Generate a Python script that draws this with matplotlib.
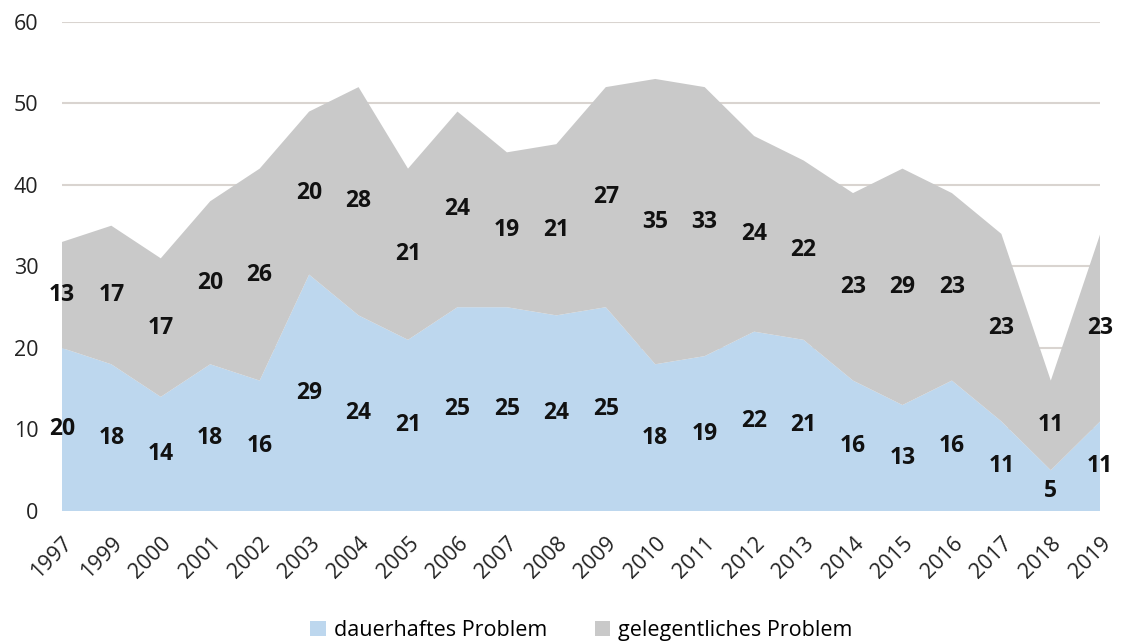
import matplotlib
matplotlib.use("Agg")
import matplotlib.pyplot as plt
import numpy as np

plt.rcParams['font.family'] = ['Open Sans', 'DejaVu Sans']

years = ["1997", "1999", "2000", "2001", "2002", "2003", "2004", "2005", "2006",
         "2007", "2008", "2009", "2010", "2011", "2012", "2013", "2014", "2015",
         "2016", "2017", "2018", "2019"]
dauerhaft = [20, 18, 14, 18, 16, 29, 24, 21, 25, 25, 24, 25, 18, 19, 22, 21, 16, 13, 16, 11, 5, 11]
gelegentlich = [13, 17, 17, 20, 26, 20, 28, 21, 24, 19, 21, 27, 35, 33, 24, 22, 23, 29, 23, 23, 11, 23]

blue = "#BDD7EE"
grey = "#C9C9C9"

fig = plt.figure(figsize=(11.25, 6.44), dpi=100)
ax = fig.add_axes([0.055, 0.2065, 0.923, 0.7595])

x = np.arange(len(years))
d = np.array(dauerhaft)
g = np.array(gelegentlich)

ax.stackplot(x, d, g, colors=[blue, grey], labels=["dauerhaftes Problem", "gelegentliches Problem"],
             linewidth=0, zorder=2)

# data labels in the middle of each band
for xi, a, b in zip(x, d, g):
    ax.text(xi, a / 2, str(a), ha="center", va="center", fontsize=16.5,
            fontweight="bold", color="#111111", zorder=3)
    ax.text(xi, a + b / 2, str(b), ha="center", va="center", fontsize=16.5,
            fontweight="bold", color="#111111", zorder=3)

ax.set_xlim(0, len(years) - 1)
ax.set_ylim(0, 60)
ax.set_yticks(range(0, 61, 10))
ax.yaxis.grid(True, color="#D9D4D0", linewidth=1.5, zorder=1)
ax.set_axisbelow(True)
for s in ax.spines.values():
    s.set_visible(False)
ax.tick_params(axis="both", length=0, labelsize=15.5, colors="#222222")
ax.tick_params(axis="y", pad=17)
ax.set_xticks(x)
ax.set_xticklabels(years, rotation=45, ha="right", rotation_mode="anchor")
ax.tick_params(axis="x", pad=16)

leg = fig.legend(loc="lower center", bbox_to_anchor=(0.517, -0.025), ncol=2, frameon=False,
                 fontsize=15.5, handlelength=0.7, handleheight=0.7, columnspacing=2.2,
                 handletextpad=0.4)

fig.savefig("out.png", dpi=100)
